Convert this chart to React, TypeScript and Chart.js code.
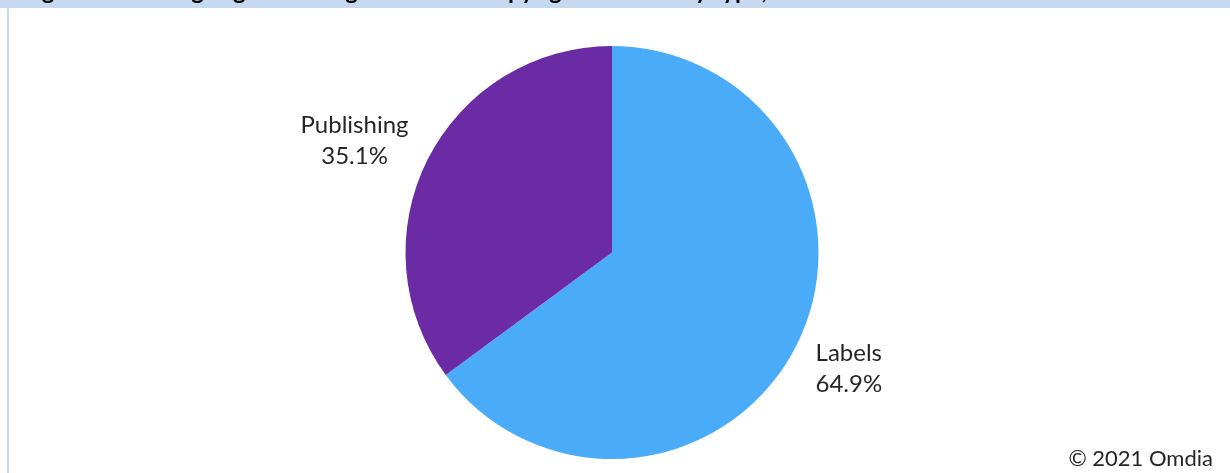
import React, { useEffect, useRef } from "react";
import { Chart, registerables } from "chart.js";

Chart.register(...registerables);

const categories: string[] = ["Labels", "Publishing"];
const shares: number[] = [64.9, 35.1];
const sliceColors: string[] = ["#4AACF8", "#6B2BA4"];
const titleText = "Figure 1: Leading segments of global music copyright revenue by type, 2020";
const creditText = "\u00A9 2021 Omdia";

const FONT = "Lato, 'Noto Sans', sans-serif";

const framePlugin = {
  id: "frame",
  beforeDraw(chart: any) {
    const ctx = chart.ctx;
    ctx.save();
    ctx.fillStyle = "#ffffff";
    ctx.fillRect(0, 0, chart.width, chart.height);
    ctx.fillStyle = "#C6D9F1";
    ctx.fillRect(0, 0, chart.width, 8);
    ctx.fillRect(7, 0, 2, chart.height);
    ctx.fillStyle = "#000000";
    ctx.font = `bold 24px ${FONT}`;
    ctx.textBaseline = "alphabetic";
    ctx.textAlign = "left";
    ctx.fillText(titleText, 22, -1);
    ctx.restore();
  },
  afterDraw(chart: any) {
    const ctx = chart.ctx;
    ctx.save();
    ctx.fillStyle = "#262626";
    ctx.font = `22px ${FONT}`;
    ctx.textAlign = "right";
    ctx.textBaseline = "alphabetic";
    ctx.fillText(creditText, 1213, 466);
    ctx.restore();
  },
};

const labelPlugin = {
  id: "sliceLabels",
  afterDatasetsDraw(chart: any) {
    const ctx = chart.ctx;
    const meta = chart.getDatasetMeta(0);
    const values = chart.data.datasets[0].data as number[];
    ctx.save();
    ctx.font = `24px ${FONT}`;
    ctx.fillStyle = "#262626";
    ctx.textAlign = "center";
    ctx.textBaseline = "alphabetic";
    const capH = 17;
    const lineGap = 31;
    const pad = 21.5;
    meta.data.forEach((arc: any, i: number) => {
      const { x, y, startAngle, endAngle, outerRadius } = arc.getProps(
        ["x", "y", "startAngle", "endAngle", "outerRadius"],
        true
      );
      const mid = (startAngle + endAngle) / 2;
      const ux = Math.cos(mid);
      const uy = Math.sin(mid);
      const line1 = chart.data.labels[i] as string;
      const line2 = `${values[i].toFixed(1)}%`;
      const w = Math.max(ctx.measureText(line1).width, ctx.measureText(line2).width);
      const h = capH + lineGap;
      const ax = x + ux * (outerRadius + pad);
      const ay = y + uy * (outerRadius + pad);
      const cx = ax + Math.sign(ux) * (w / 2);
      const cy = ay + uy * (h / 2) + 1.5;
      const top = cy - h / 2;
      ctx.fillText(line1, cx, top + capH);
      ctx.fillText(line2, cx, top + capH + lineGap);
    });
    ctx.restore();
  },
};

export default function App() {
  const ref = useRef<HTMLCanvasElement | null>(null);

  useEffect(() => {
    document.body.style.margin = "0";
    if (!ref.current) return;
    const chart = new Chart(ref.current, {
      type: "pie",
      data: {
        labels: categories,
        datasets: [
          {
            data: shares,
            backgroundColor: sliceColors,
            borderWidth: 0,
            hoverOffset: 0,
            offset: 0,
          } as any,
        ],
      },
      options: {
        animation: false,
        responsive: false,
        maintainAspectRatio: false,
        events: [],
        layout: { padding: { left: 405.5, right: 411.5, top: 46, bottom: 14 } },
        plugins: {
          legend: { display: false },
          tooltip: { enabled: false },
          title: { display: false },
        },
      },
      plugins: [framePlugin, labelPlugin],
    });
    return () => chart.destroy();
  }, []);

  return (
    <div style={{ position: "fixed", left: 0, top: 0, width: 1230, height: 473, background: "#fff" }}>
      <canvas ref={ref} width={1230} height={473} style={{ display: "block", width: 1230, height: 473 }} />
    </div>
  );
}
